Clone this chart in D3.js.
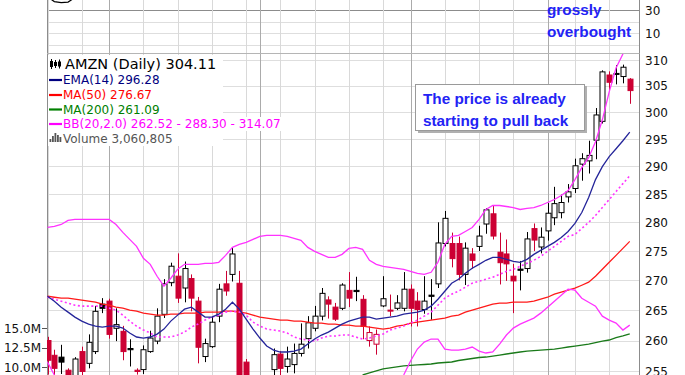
<!DOCTYPE html>
<html><head><meta charset="utf-8">
<script src="https://cdn.jsdelivr.net/npm/d3@7"></script>
<style>html,body{margin:0;padding:0;background:#fff;overflow:hidden}svg{display:block}</style>
</head><body>
<script>
// ---------------- DATA ----------------
const dates = [
"2013-03-18","2013-03-19","2013-03-20","2013-03-21","2013-03-22","2013-03-25","2013-03-26","2013-03-27","2013-03-28",
"2013-04-01","2013-04-02","2013-04-03","2013-04-04","2013-04-05","2013-04-08","2013-04-09","2013-04-10","2013-04-11","2013-04-12",
"2013-04-15","2013-04-16","2013-04-17","2013-04-18","2013-04-19","2013-04-22","2013-04-23","2013-04-24","2013-04-25","2013-04-26",
"2013-04-29","2013-04-30",
"2013-05-01","2013-05-02","2013-05-03","2013-05-06","2013-05-07","2013-05-08","2013-05-09","2013-05-10","2013-05-13","2013-05-14",
"2013-05-15","2013-05-16","2013-05-17","2013-05-20","2013-05-21","2013-05-22","2013-05-23","2013-05-24","2013-05-28","2013-05-29",
"2013-05-30","2013-05-31",
"2013-06-03","2013-06-04","2013-06-05","2013-06-06","2013-06-07","2013-06-10","2013-06-11","2013-06-12","2013-06-13","2013-06-14",
"2013-06-17","2013-06-18","2013-06-19","2013-06-20","2013-06-21","2013-06-24","2013-06-25","2013-06-26","2013-06-27","2013-06-28",
"2013-07-01","2013-07-02","2013-07-03","2013-07-05","2013-07-08","2013-07-09","2013-07-10","2013-07-11","2013-07-12","2013-07-15",
"2013-07-16","2013-07-17","2013-07-18"];

const priorClose = 260.4;
const open = [260.0,257.6,257.3,255.2,253.5,258.2,256.3,258.2,266.0,266.5,
262.0,261.5,258.7,255.2,255.3,258.2,259.9,264.3,269.6,270.7,
268.7,270.3,266.5,257.4,259.0,264.0,269.4,271.0,269.5,256.5,
249.5,248.5,250.5,255.3,257.8,255.8,256.1,257.9,260.3,262.0,
264.0,266.7,265.5,265.3,268.3,268.3,266.8,260.0,259.4,265.7,
265.0,265.3,265.3,268.5,266.5,265.1,267.5,269.4,276.3,276.3,
276.3,271.0,274.5,275.8,279.7,281.5,274.8,274.5,270.7,271.9,
272.0,278.9,275.7,278.5,280.8,281.7,284.5,286.0,290.4,291.0,
294.8,298.3,307.1,307.4,306.8,306.3];
const high = [260.6,258.5,259.3,255.5,257.3,259.0,261.0,265.7,267.0,266.9,
265.3,262.4,260.2,255.5,259.2,261.6,265.3,270.2,273.0,274.6,
273.2,271.0,267.2,260.3,264.0,269.4,271.6,275.6,271.6,257.0,
251.0,251.8,254.0,258.7,258.3,259.0,259.5,262.8,264.0,265.7,
268.7,267.3,266.2,269.5,271.4,270.6,267.5,262.3,261.8,270.7,
267.6,267.5,271.4,269.3,268.0,270.7,270.2,280.0,282.0,278.2,
277.5,276.5,275.5,279.4,282.5,283.0,278.2,277.0,272.8,273.3,
278.3,279.8,279.1,283.4,286.3,284.9,286.8,291.4,292.4,294.7,
300.8,308.0,307.8,309.0,309.1,306.5];
const low = [254.5,254.3,254.6,252.0,253.0,254.4,255.5,257.8,264.5,260.3,
259.9,256.8,255.8,254.5,254.6,258.0,259.4,263.7,269.0,266.2,
266.3,264.8,256.3,256.5,258.8,263.0,267.4,269.8,250.0,249.0,
247.0,247.5,249.5,254.0,254.2,254.8,254.7,257.4,258.7,261.5,
263.3,263.6,263.2,265.0,265.5,266.5,260.2,259.0,257.7,265.5,
264.0,265.0,264.8,262.3,262.3,264.4,263.4,268.7,275.8,272.2,
270.0,269.2,272.0,275.0,278.0,277.0,269.3,269.9,264.5,268.3,
271.3,275.0,274.6,276.8,279.5,280.7,283.5,285.2,287.4,288.7,
291.3,297.9,304.2,305.3,305.5,301.6];
const close = [256.8,255.5,256.5,253.5,257.0,255.0,259.7,264.8,265.3,261.0,
262.6,258.2,258.5,255.0,258.5,260.4,264.0,269.4,272.4,267.0,
272.0,267.0,258.9,259.5,263.0,268.5,268.2,274.5,252.0,250.0,
248.5,250.5,252.5,257.7,255.5,257.0,257.9,259.4,262.9,264.0,
267.8,266.0,263.5,269.2,267.0,268.1,262.3,261.3,261.0,266.9,
264.9,266.2,268.5,265.3,265.1,266.5,267.3,276.4,280.7,273.7,
271.0,275.5,273.4,277.6,282.2,277.6,273.0,272.8,269.9,271.7,
277.1,276.9,277.4,281.6,283.3,283.5,285.4,290.1,291.4,292.0,
299.5,307.7,305.7,307.3,308.6,304.11];

const ema14 = [267.32,266.49,265.49,264.67,263.84,263.18,262.69,262.36,262.20,262.36,
262.36,262.03,261.22,260.57,260.40,260.57,261.05,261.87,263.18,264.17,
265.16,265.49,264.67,263.84,263.84,264.34,265.16,266.32,265.16,263.51,
261.87,260.40,259.10,258.45,258.13,258.13,258.29,258.61,259.42,260.24,
260.89,261.38,262.03,262.69,263.18,263.51,263.84,263.84,263.51,263.68,
263.84,264.00,264.34,264.50,264.67,265.00,265.66,266.82,268.16,269.51,
270.18,271.19,272.04,272.72,273.41,273.92,273.92,273.58,273.24,273.07,
273.58,274.43,275.12,275.81,276.50,277.36,278.40,279.80,281.73,284.39,
287.60,289.95,291.77,293.22,294.70,296.28];
const ma50 = [267.32,267.15,266.99,266.99,266.82,266.65,266.49,266.32,265.99,265.82,
265.49,265.33,265.00,264.83,264.50,264.34,264.17,264.17,264.34,264.34,
264.50,264.50,264.50,264.67,264.67,264.67,264.83,264.83,264.67,264.50,
264.17,263.84,263.68,263.51,263.35,263.35,263.18,263.18,263.02,262.85,
262.85,262.69,262.69,262.53,262.53,262.36,262.36,262.20,262.03,261.87,
262.03,262.36,262.53,262.85,263.02,263.18,263.35,263.51,263.68,264.00,
264.17,264.67,265.00,265.33,265.66,265.99,266.16,266.16,266.32,266.32,
266.32,266.49,266.82,267.15,267.66,268.00,268.33,268.67,269.17,269.68,
270.69,271.87,273.07,274.26,275.46,276.67];
const ma200 = [null,null,null,null,null,null,null,null,null,null,
null,null,null,null,null,null,null,null,null,null,
null,null,null,null,null,null,null,null,null,null,
null,null,null,null,null,null,null,null,null,null,
null,null,null,null,null,null,254.44,254.76,255.08,255.40,
255.56,255.72,255.88,255.96,256.04,256.12,256.20,256.36,256.44,256.52,
256.76,256.92,257.08,257.24,257.32,257.48,257.64,257.81,257.97,258.13,
258.29,258.37,258.45,258.53,258.61,258.77,258.94,259.10,259.26,259.42,
259.67,259.91,260.08,260.45,260.75,261.09];
const bbUpper = [279.10,279.27,279.62,280.33,280.50,280.50,280.50,280.50,280.50,280.50,
279.62,278.23,277.02,275.81,273.75,272.72,270.69,269.00,270.35,271.87,
272.72,272.72,272.72,272.89,272.89,273.07,274.26,275.63,276.15,276.50,
277.02,277.54,277.71,277.71,277.71,277.54,277.19,276.85,275.63,274.95,
274.43,273.92,273.92,274.43,275.46,275.63,275.29,273.41,272.72,272.38,
272.21,272.04,271.87,271.53,271.19,271.02,271.36,273.07,276.15,277.54,
277.71,278.40,279.10,280.50,282.26,282.97,282.97,282.79,282.61,282.26,
282.44,282.61,282.97,283.50,284.03,284.74,285.63,287.60,289.76,291.59,
294.51,298.59,303.86,308.45,311.17,314.07];
const bbMiddle = [267.15,266.82,266.49,266.16,265.82,265.66,265.66,265.66,265.66,265.33,
265.00,264.17,263.18,262.36,261.71,261.22,260.57,260.57,260.57,260.89,
261.38,262.20,262.69,263.35,263.84,264.17,264.67,264.83,264.67,264.17,
263.02,262.36,261.87,261.71,261.54,261.22,260.57,260.24,260.08,259.91,
260.40,260.73,260.73,260.89,260.89,260.57,260.24,260.40,260.73,261.05,
261.71,262.03,262.36,262.85,263.35,264.00,264.67,265.82,266.99,267.66,
268.16,268.84,269.51,269.84,270.18,270.52,271.02,271.53,271.87,272.38,
272.89,273.41,274.09,274.95,275.81,276.67,277.54,277.88,278.93,279.98,
281.21,282.61,284.03,285.45,286.88,288.30];
const bbLower = [256.52,254.44,null,null,null,null,null,null,null,null,
null,null,null,null,null,null,null,null,null,null,
null,null,null,null,null,null,null,null,null,null,
null,null,null,null,null,null,null,null,null,null,
null,null,null,null,null,null,null,null,null,null,
null,null,254.44,256.68,258.61,259.75,260.24,260.24,258.61,258.45,
258.45,258.61,258.94,258.29,257.97,258.13,259.42,260.89,262.03,262.69,
263.18,263.68,264.50,265.49,266.49,267.49,268.50,268.33,266.99,266.32,
265.66,264.00,263.35,262.85,261.71,262.52];
// RSI: only the first days dip into the visible part of the top panel
const rsiDates = ["2013-03-18","2013-03-19","2013-03-20","2013-03-21","2013-03-22"];
const rsi14 = [41.5,37.3,36.4,36.9,40.8];

const priceTicks = [255,260,265,270,275,280,285,290,295,300,305,310];
const rsiTicks = [30,10];
const rsiGridLevels = [0,10,20,30];
const volumeTicks = [10000000,12500000,15000000];
const volumeTickLabels = ["10.0M","12.5M","15.0M"];

const legendHeader = "AMZN (Daily) 304.11";
const legendRows = [
  {label:"EMA(14) 296.28", color:"#000080"},
  {label:"MA(50) 276.67", color:"#ff0000"},
  {label:"MA(200) 261.09", color:"#008000"},
  {label:"BB(20,2.0) 262.52 - 288.30 - 314.07", color:"#ff00ff"}
];
const volumeLegend = "Volume 3,060,805";
const noteTop = ["grossly","overbought"];
const noteBox = ["The price is already","starting to pull back"];

// ---------------- CHART ----------------
const W = 685, H = 375;
const plotL = 47, plotR = 639.5;
const RED = "#cc0033";
const svg = d3.select("body").append("svg").attr("width", W).attr("height", H)
  .style("font-family", "'DejaVu Sans', Verdana, sans-serif");

const x = d3.scalePoint().domain(dates).range([47.5, 629.75]);
const y = d3.scaleLog().domain([260, 310]).range([340.5, 60]);
const yR = d3.scaleLinear().domain([10, 30]).range([33, 10]);
const yV = d3.scaleLinear().domain([10000000, 15000000]).range([367, 328]);
const px = v => Math.round(v) + 0.5;

const defs = svg.append("defs");
defs.append("clipPath").attr("id", "clipMain").append("rect")
  .attr("x", plotL).attr("y", 54).attr("width", plotR - plotL).attr("height", H - 54);
defs.append("clipPath").attr("id", "clipRsi").append("rect")
  .attr("x", plotL).attr("y", 0).attr("width", plotR - plotL).attr("height", 53);

// horizontal grid - RSI panel
svg.append("g").selectAll("line").data(rsiGridLevels).join("line")
  .attr("x1", plotL).attr("x2", plotR)
  .attr("y1", d => px(yR(d))).attr("y2", d => px(yR(d)))
  .attr("stroke", d => d === 30 ? "#8c8c8c" : "#dedede").attr("stroke-width", 1);
// horizontal grid - price panel
svg.append("g").selectAll("line").data(priceTicks).join("line")
  .attr("x1", plotL).attr("x2", plotR)
  .attr("y1", d => px(y(d))).attr("y2", d => px(y(d)))
  .attr("stroke", "#dedede");

// vertical grid (first trading day of week / month)
const vlines = [];
dates.forEach((d, i) => {
  const dt = new Date(d + "T00:00:00Z");
  if (i === 0) { vlines.push({d, month: false}); return; }
  const pdt = new Date(dates[i - 1] + "T00:00:00Z");
  const newMonth = dt.getUTCMonth() !== pdt.getUTCMonth();
  const newWeek = dt.getUTCDay() < pdt.getUTCDay() || (dt - pdt) > 4 * 864e5;
  if (newMonth || newWeek) vlines.push({d, month: newMonth});
});
svg.append("g").selectAll("line").data(vlines).join("line")
  .attr("x1", d => px(x(d.d))).attr("x2", d => px(x(d.d)))
  .attr("y1", 0).attr("y2", H)
  .attr("stroke", d => d.month ? "#ababab" : "#d9d9d9");

// borders / separators
svg.append("line").attr("x1", plotL + 0.5).attr("x2", plotL + 0.5).attr("y1", 0).attr("y2", H).attr("stroke", "#8c8c8c");
svg.append("line").attr("x1", plotR).attr("x2", plotR).attr("y1", 0).attr("y2", H).attr("stroke", "#8c8c8c");
svg.append("line").attr("x1", plotL).attr("x2", plotR).attr("y1", 53.5).attr("y2", 53.5).attr("stroke", "#b5b5b5");

// RSI line
const rsiLine = d3.line().x((d, i) => x(rsiDates[i])).y(d => yR(d));
svg.append("path").attr("clip-path", "url(#clipRsi)").attr("d", rsiLine(rsi14))
  .attr("fill", "none").attr("stroke", "#000").attr("stroke-width", 1.2);

// candles
const cg = svg.append("g").attr("clip-path", "url(#clipMain)");
dates.forEach((d, i) => {
  const o = open[i], c = close[i], h = high[i], l = low[i];
  const prev = i === 0 ? priorClose : close[i - 1];
  const col = c < prev ? RED : "#000";
  const filled = c < o;
  const cx = Math.round(x(d)) + 0.5;
  cg.append("line").attr("x1", cx).attr("x2", cx).attr("y1", y(h)).attr("y2", y(l))
    .attr("stroke", col).attr("stroke-width", 1);
  const top = y(Math.max(o, c)), bot = y(Math.min(o, c));
  cg.append("rect").attr("x", cx - 2.5).attr("y", top)
    .attr("width", 5).attr("height", Math.max(1, bot - top))
    .attr("fill", filled ? col : "#fff").attr("stroke", col).attr("stroke-width", 1);
});

// overlays
const lineGen = d3.line().defined(d => d[1] != null).x(d => x(dates[d[0]])).y(d => y(d[1]));
const series = (arr) => arr.map((v, i) => [i, v]);
const og = svg.append("g").attr("clip-path", "url(#clipMain)").attr("fill", "none");
og.append("path").attr("d", lineGen(series(ma200))).attr("stroke", "#1a7a1a").attr("stroke-width", 1.3);
og.append("path").attr("d", lineGen(series(ma50))).attr("stroke", "#ff1a1a").attr("stroke-width", 1.3);
og.append("path").attr("d", lineGen(series(bbMiddle))).attr("stroke", "#ff33ff").attr("stroke-width", 1.6).attr("stroke-dasharray", "2,2.5");
og.append("path").attr("d", lineGen(series(bbLower))).attr("stroke", "#ff33ff").attr("stroke-width", 1.3);
og.append("path").attr("d", lineGen(series(bbUpper))).attr("stroke", "#ff33ff").attr("stroke-width", 1.3);
og.append("path").attr("d", lineGen(series(ema14))).attr("stroke", "#25259a").attr("stroke-width", 1.3);

// right axis labels
svg.append("g").selectAll("text").data(priceTicks).join("text")
  .attr("x", 645).attr("y", d => y(d) + 4.5).attr("font-size", 12).attr("fill", "#111").text(d => d);
svg.append("g").selectAll("text").data(rsiTicks).join("text")
  .attr("x", 645).attr("y", d => yR(d) + 4.5).attr("font-size", 12).attr("fill", "#111").text(d => d);

// volume axis labels (left)
const vg = svg.append("g");
vg.selectAll("text").data(volumeTicks).join("text")
  .attr("x", 41).attr("y", d => yV(d) + 4.5).attr("text-anchor", "end")
  .attr("font-size", 12).attr("fill", "#111").text((d, i) => volumeTickLabels[i]);
vg.selectAll("line").data(volumeTicks).join("line")
  .attr("x1", 42).attr("x2", 47).attr("y1", d => px(yV(d))).attr("y2", d => px(yV(d))).attr("stroke", "#555");

// legend
const lg = svg.append("g");
lg.append("rect").attr("x", 48).attr("y", 55).attr("width", 175).attr("height", 91).attr("fill", "#fff");
const bbRowY = 124;
const bbText = lg.append("text").attr("x", 63).attr("y", bbRowY + 4.3).attr("font-size", 12)
  .attr("fill", legendRows[3].color).text(legendRows[3].label);
const bbW = bbText.node().getComputedTextLength();
lg.insert("rect", "text").attr("x", 48).attr("y", bbRowY - 7).attr("width", 63 + bbW + 2 - 48).attr("height", 14).attr("fill", "#fff");
// header icon
const ig = lg.append("g").attr("stroke", "#000").attr("fill", "#000");
[[51.5, 59, 69, 61, 6], [55.5, 60, 68, 62, 4], [59.5, 59.5, 68.5, 61.5, 5]].forEach(a => {
  ig.append("line").attr("x1", a[0]).attr("x2", a[0]).attr("y1", a[1]).attr("y2", a[2]).attr("stroke-width", 1);
  ig.append("rect").attr("x", a[0] - 1.5).attr("y", a[3]).attr("width", 3).attr("height", a[4]).attr("stroke", "none");
});
lg.append("text").attr("x", 65).attr("y", 69.3).attr("font-size", 14.5).attr("fill", "#000").text(legendHeader);
legendRows.forEach((r, k) => {
  const cy = [80, 95, 109.5, 124][k];
  lg.append("line").attr("x1", 49).attr("x2", 62).attr("y1", cy).attr("y2", cy).attr("stroke", r.color).attr("stroke-width", 2.2);
  if (k < 3) lg.append("text").attr("x", 63).attr("y", cy + 4.3).attr("font-size", 12).attr("fill", r.color).text(r.label);
});
// volume legend
[[49.5, 3], [52, 6], [54.5, 9], [57, 7], [59.5, 5]].forEach(b => {
  lg.append("rect").attr("x", b[0]).attr("y", 142 - b[1]).attr("width", 1.8).attr("height", b[1]).attr("fill", "#555");
});
lg.append("text").attr("x", 63).attr("y", 142.5).attr("font-size", 12).attr("fill", "#555").text(volumeLegend);

// annotations
const ag = svg.append("g").style("font-family", "'Liberation Sans', Arial, sans-serif")
  .attr("font-weight", "bold").attr("font-size", 15.3).attr("fill", "#2323f5");
ag.append("text").attr("x", 547).attr("y", 15).text(noteTop[0]);
ag.append("text").attr("x", 547).attr("y", 37).text(noteTop[1]);
svg.append("rect").attr("x", 418).attr("y", 86).attr("width", 169).attr("height", 47).attr("fill", "#b0b0b0");
svg.append("rect").attr("x", 415.5).attr("y", 84.5).attr("width", 169).attr("height", 46).attr("fill", "#fff").attr("stroke", "#9a9a9a");
const bg2 = svg.append("g").style("font-family", "'Liberation Sans', Arial, sans-serif")
  .attr("font-weight", "bold").attr("font-size", 15.3).attr("fill", "#2323f5");
bg2.append("text").attr("x", 423).attr("y", 103.5).text(noteBox[0]);
bg2.append("text").attr("x", 423).attr("y", 125.5).text(noteBox[1]);
</script>
</body></html>
